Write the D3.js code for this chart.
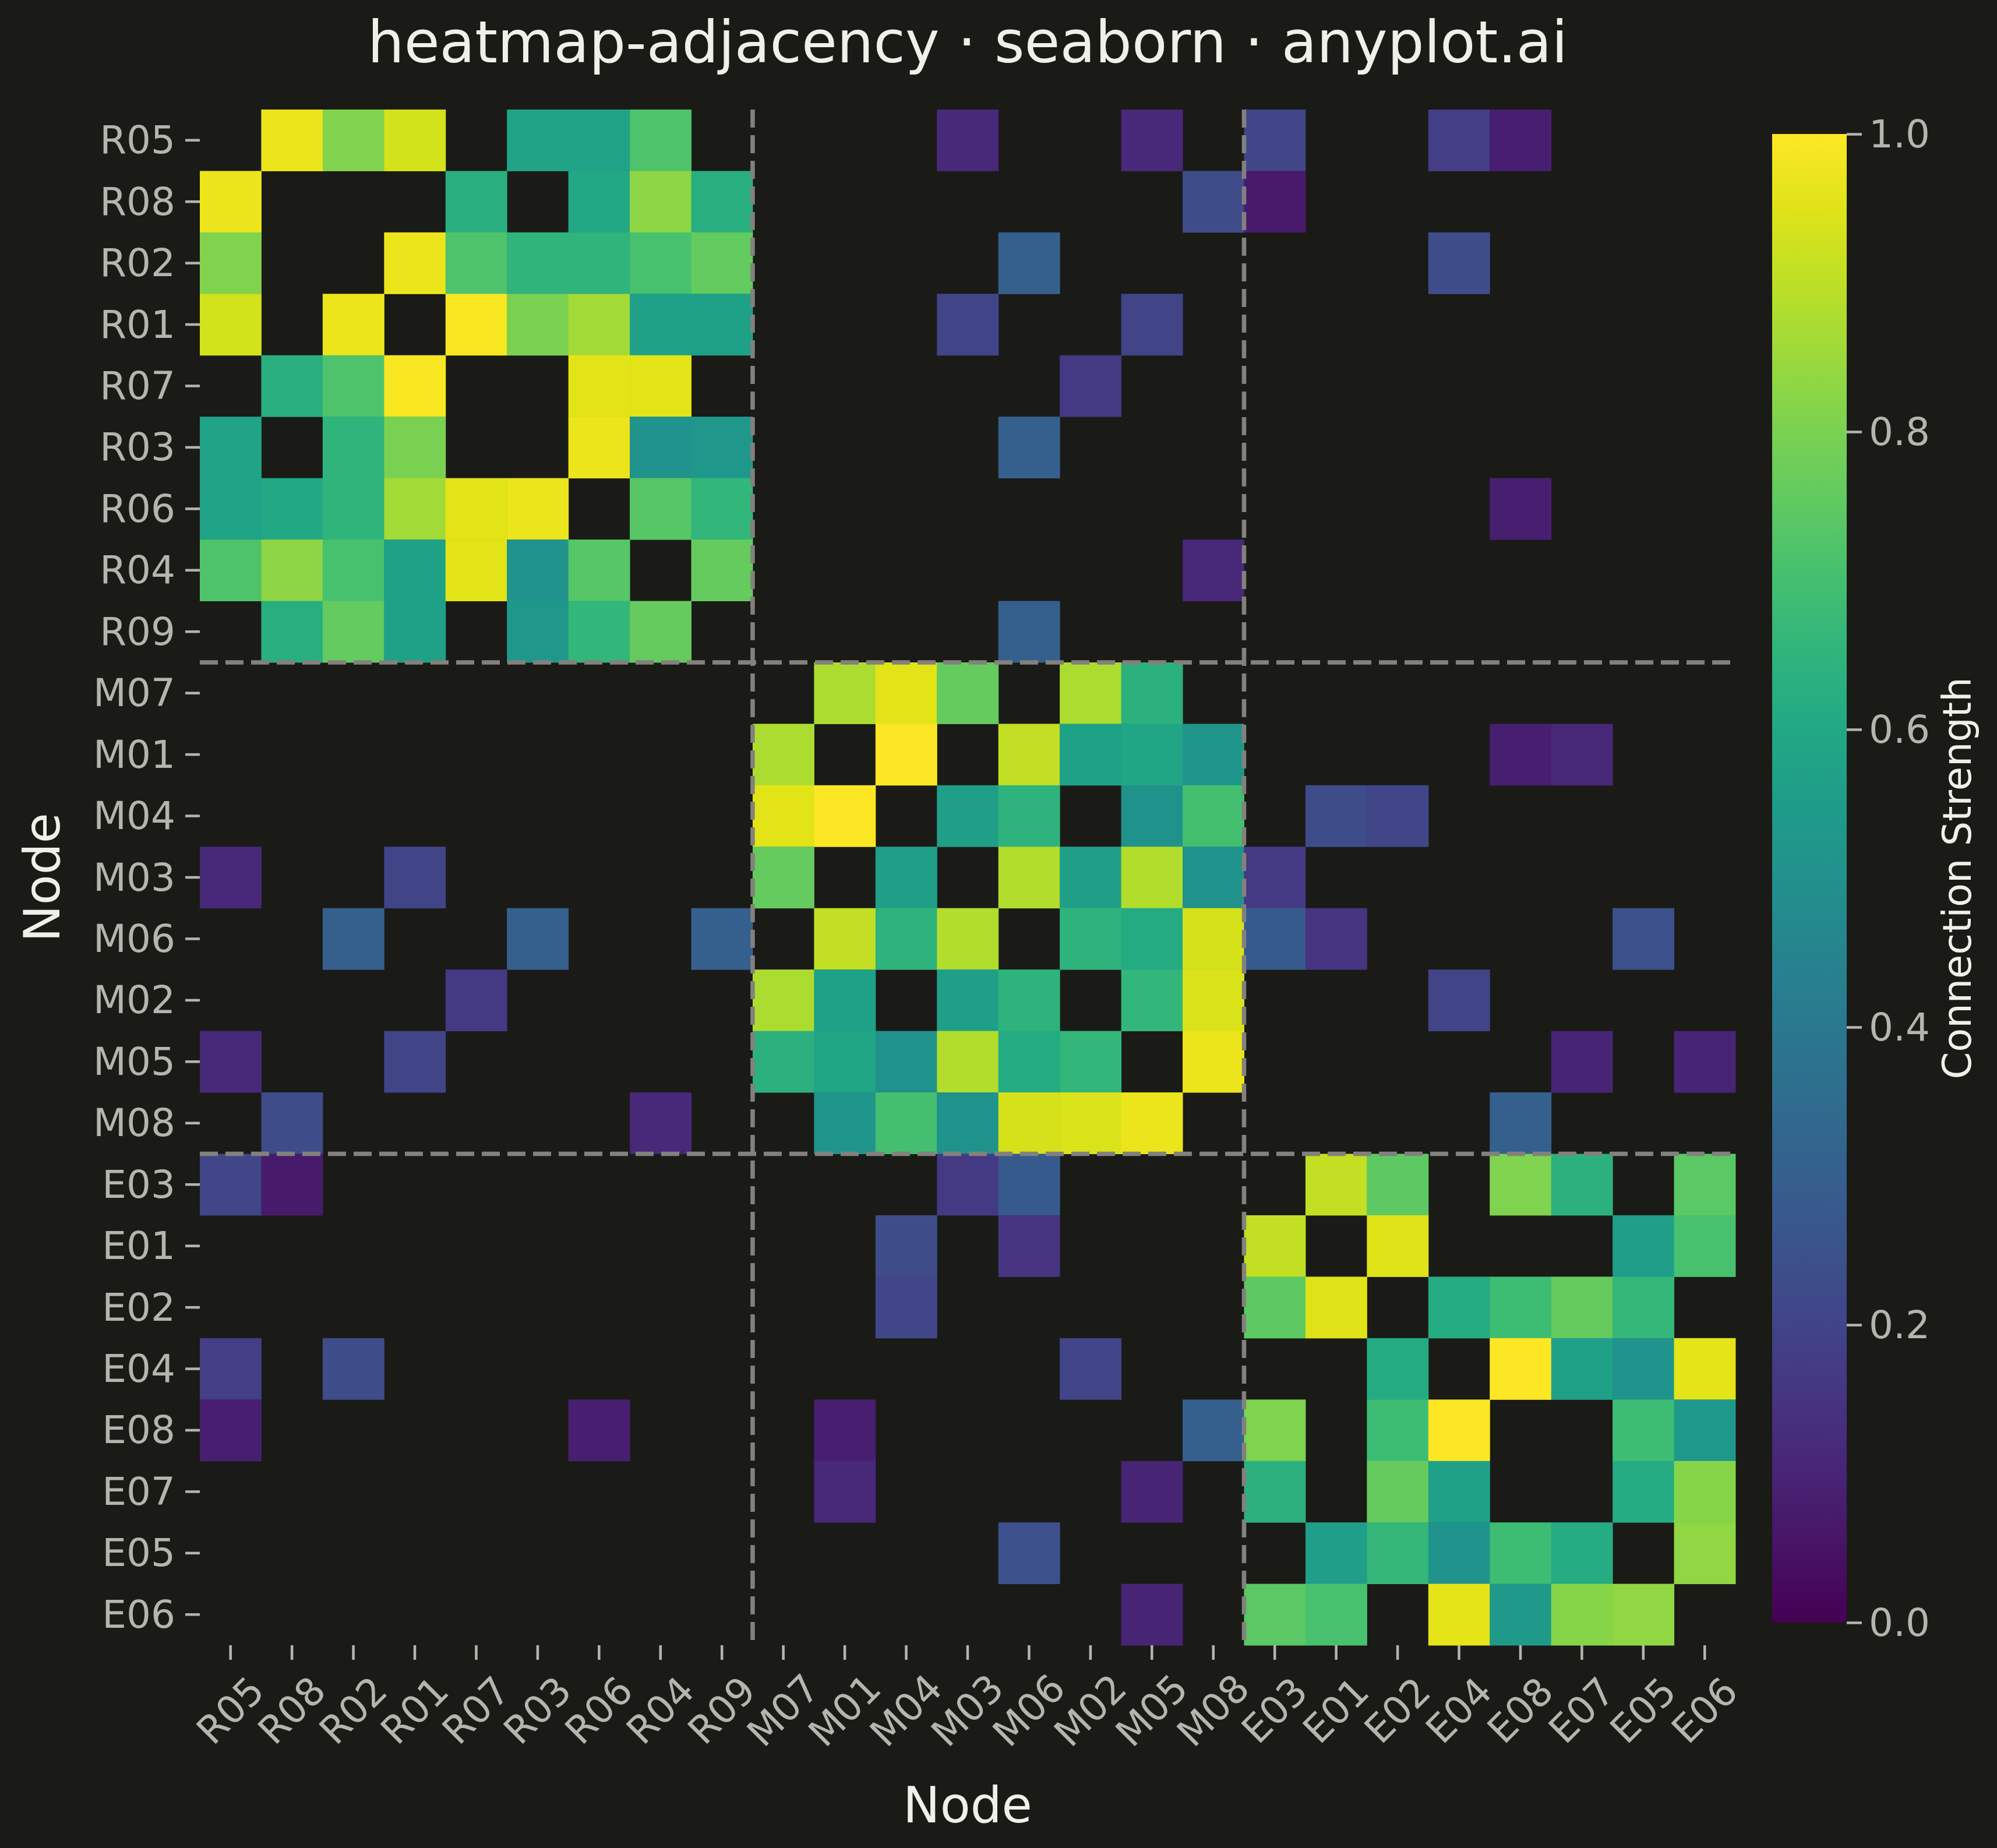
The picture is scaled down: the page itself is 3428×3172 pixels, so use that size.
<!DOCTYPE html>
<html>
<head>
<meta charset="utf-8">
<script src="https://cdn.jsdelivr.net/npm/d3@7"></script>
<style>
  body { margin: 0; background: #1a1a17; }
  text { font-family: "DejaVu Sans", sans-serif; }
</style>
</head>
<body>
<div id="chart"></div>
<script>
// node order as drawn (grouped: R, M, E)
const nodes = ["R05", "R08", "R02", "R01", "R07", "R03", "R06", "R04", "R09",
    "M07", "M01", "M04", "M03", "M06", "M02", "M05", "M08",
    "E03", "E01", "E02", "E04", "E08", "E07", "E05", "E06"];

// group boundaries (index where a new group starts)
const groupBreaks = [9, 17];

// connection strength matrix, rows/cols follow `nodes`, 0 = no edge
const strength = [
    [0, .97, .81, .93, 0, .58, .58, .72, 0,   0, 0, 0, .11, 0, 0, .11, 0,   .21, 0, 0, .18, .085, 0, 0, 0],
    [.97, 0, 0, 0, .63, 0, .60, .83, .63,   0, 0, 0, 0, 0, 0, 0, .23,   .07, 0, 0, 0, 0, 0, 0, 0],
    [.81, 0, 0, .97, .72, .65, .65, .71, .76,   0, 0, 0, 0, .30, 0, 0, 0,   0, 0, 0, .23, 0, 0, 0, 0],
    [.93, 0, .97, 0, .99, .80, .86, .57, .57,   0, 0, 0, .20, 0, 0, .20, 0,   0, 0, 0, 0, 0, 0, 0, 0],
    [0, .63, .72, .99, 0, 0, .955, .955, 0,   0, 0, 0, 0, 0, .165, 0, 0,   0, 0, 0, 0, 0, 0, 0, 0],
    [.58, 0, .65, .80, 0, 0, .97, .515, .535,   0, 0, 0, 0, .30, 0, 0, 0,   0, 0, 0, 0, 0, 0, 0, 0],
    [.58, .60, .65, .86, .955, .97, 0, .735, .66,   0, 0, 0, 0, 0, 0, 0, 0,   0, 0, 0, 0, .085, 0, 0, 0],
    [.72, .83, .71, .57, .955, .515, .735, 0, .765,   0, 0, 0, 0, 0, 0, 0, .11,   0, 0, 0, 0, 0, 0, 0, 0],
    [0, .63, .76, .57, 0, .535, .66, .765, 0,   0, 0, 0, 0, .30, 0, 0, 0,   0, 0, 0, 0, 0, 0, 0, 0],
    [0, 0, 0, 0, 0, 0, 0, 0, 0,   0, .875, .955, .765, 0, .875, .64, 0,   0, 0, 0, 0, 0, 0, 0, 0],
    [0, 0, 0, 0, 0, 0, 0, 0, 0,   .875, 0, 1.0, 0, .91, .57, .59, .52,   0, 0, 0, 0, .085, .11, 0, 0],
    [0, 0, 0, 0, 0, 0, 0, 0, 0,   .955, 1.0, 0, .56, .645, 0, .51, .70,   0, .23, .21, 0, 0, 0, 0, 0],
    [.11, 0, 0, .20, 0, 0, 0, 0, 0,   .765, 0, .56, 0, .885, .56, .885, .51,   .165, 0, 0, 0, 0, 0, 0, 0],
    [0, 0, .30, 0, 0, .30, 0, 0, .30,   0, .91, .645, .885, 0, .645, .61, .935,   .28, .15, 0, 0, 0, 0, .245, 0],
    [0, 0, 0, 0, .165, 0, 0, 0, 0,   .875, .57, 0, .56, .645, 0, .66, .945,   0, 0, 0, .20, 0, 0, 0, 0],
    [.11, 0, 0, .20, 0, 0, 0, 0, 0,   .64, .59, .51, .885, .61, .66, 0, .97,   0, 0, 0, 0, 0, .10, 0, .10],
    [0, .23, 0, 0, 0, 0, 0, .11, 0,   0, .52, .70, .51, .935, .945, .97, 0,   0, 0, 0, 0, .30, 0, 0, 0],
    [.21, .07, 0, 0, 0, 0, 0, 0, 0,   0, 0, 0, .165, .28, 0, 0, 0,   0, .91, .75, 0, .805, .64, 0, .745],
    [0, 0, 0, 0, 0, 0, 0, 0, 0,   0, 0, .23, 0, .15, 0, 0, 0,   .91, 0, .95, 0, 0, 0, .555, .71],
    [0, 0, 0, 0, 0, 0, 0, 0, 0,   0, 0, .21, 0, 0, 0, 0, 0,   .75, .95, 0, .61, .685, .765, .665, 0],
    [.18, 0, .23, 0, 0, 0, 0, 0, 0,   0, 0, 0, 0, 0, .20, 0, 0,   0, 0, .61, 0, 1.0, .57, .515, .96],
    [.085, 0, 0, 0, 0, 0, .085, 0, 0,   0, .085, 0, 0, 0, 0, 0, .30,   .805, 0, .685, 1.0, 0, 0, .685, .54],
    [0, 0, 0, 0, 0, 0, 0, 0, 0,   0, .11, 0, 0, 0, 0, .10, 0,   .64, 0, .765, .57, 0, 0, .615, .82],
    [0, 0, 0, 0, 0, 0, 0, 0, 0,   0, 0, 0, 0, .245, 0, 0, 0,   0, .555, .665, .515, .685, .615, 0, .835],
    [0, 0, 0, 0, 0, 0, 0, 0, 0,   0, 0, 0, 0, 0, 0, .10, 0,   .745, .71, 0, .96, .54, .82, .835, 0]
];

const colorbarTicks = [0, 0.2, 0.4, 0.6, 0.8, 1.0];

// chart dimensions
const width = 3428, height = 3172;
const plot = { left: 343, right: 2979, top: 188, bottom: 2824 };
const cbar = { left: 3042, right: 3170, top: 230, bottom: 2785 };
const tickColor = "#b5b5ae";
const labelColor = "#f0efe8";

const svg = d3.select("#chart")
    .append("svg")
    .attr("width", width)
    .attr("height", height)
    .style("background", "#1a1a17");

// scales
const x = d3.scaleBand().domain(nodes).range([plot.left, plot.right]);
const y = d3.scaleBand().domain(nodes).range([plot.top, plot.bottom]);
const color = d3.scaleSequential(d3.interpolateViridis).domain([0, 1]);

// flatten to cells, skipping empty ones
const cells = [];
strength.forEach((row, i) => row.forEach((v, j) => {
    if (v > 0) cells.push({ row: nodes[i], col: nodes[j], value: v });
}));

svg.append("g")
    .selectAll("rect")
    .data(cells)
    .enter()
    .append("rect")
    .attr("x", d => x(d.col))
    .attr("y", d => y(d.row))
    .attr("width", x.bandwidth() + 0.5)
    .attr("height", y.bandwidth() + 0.5)
    .attr("fill", d => color(d.value));

// group separators
const sep = svg.append("g")
    .attr("stroke", "#82817d")
    .attr("stroke-width", 7.5)
    .attr("stroke-dasharray", "31 13");

groupBreaks.forEach(b => {
    const px = x(nodes[b]);
    const py = y(nodes[b]);
    sep.append("line")
        .attr("x1", plot.left).attr("x2", plot.right)
        .attr("y1", py).attr("y2", py);
    sep.append("line")
        .attr("x1", px).attr("x2", px)
        .attr("y1", plot.top).attr("y2", plot.bottom);
});

// y axis
const yAxis = svg.append("g")
    .attr("transform", `translate(${plot.left},0)`)
    .call(d3.axisLeft(y).tickSize(25).tickPadding(17));
yAxis.select(".domain").remove();
yAxis.selectAll("line").attr("stroke", tickColor).attr("stroke-width", 4.5);
yAxis.selectAll("text")
    .attr("fill", tickColor)
    .style("font-size", "66px")
    .attr("dy", null)
    .attr("dominant-baseline", "central");

// x axis, labels rotated 45 and centred under the tick
const xAxis = svg.append("g")
    .attr("transform", `translate(0,${plot.bottom})`)
    .call(d3.axisBottom(x).tickSize(25));
xAxis.select(".domain").remove();
xAxis.selectAll("line").attr("stroke", tickColor).attr("stroke-width", 4.5);
xAxis.selectAll("text")
    .attr("fill", tickColor)
    .style("font-size", "66px")
    .attr("y", null)
    .attr("dy", null)
    .attr("text-anchor", "middle")
    .attr("dominant-baseline", "central")
    .attr("transform", "translate(0,112) rotate(-45)");

// axis labels
svg.append("text")
    .attr("x", (plot.left + plot.right) / 2)
    .attr("y", 3128)
    .attr("text-anchor", "middle")
    .attr("fill", labelColor)
    .style("font-size", "85px")
    .text("Node");

svg.append("text")
    .attr("transform", `translate(102,${(plot.top + plot.bottom) / 2}) rotate(-90)`)
    .attr("text-anchor", "middle")
    .attr("fill", labelColor)
    .style("font-size", "85px")
    .text("Node");

// title
svg.append("text")
    .attr("x", (plot.left + plot.right) / 2)
    .attr("y", 107)
    .attr("text-anchor", "middle")
    .attr("fill", labelColor)
    .style("font-size", "99px")
    .text("heatmap-adjacency · seaborn · anyplot.ai");

// colorbar
const grad = svg.append("defs").append("linearGradient")
    .attr("id", "viridis")
    .attr("x1", "0%").attr("x2", "0%")
    .attr("y1", "100%").attr("y2", "0%");
d3.range(0, 1.0001, 0.05).forEach(t => {
    grad.append("stop")
        .attr("offset", `${t * 100}%`)
        .attr("stop-color", color(t));
});

svg.append("rect")
    .attr("x", cbar.left)
    .attr("y", cbar.top)
    .attr("width", cbar.right - cbar.left)
    .attr("height", cbar.bottom - cbar.top)
    .attr("fill", "url(#viridis)");

const cScale = d3.scaleLinear().domain([0, 1]).range([cbar.bottom, cbar.top]);
const cAxis = svg.append("g")
    .attr("transform", `translate(${cbar.right},0)`)
    .call(d3.axisRight(cScale).tickValues(colorbarTicks).tickFormat(d3.format(".1f")).tickSize(26).tickPadding(12));
cAxis.select(".domain").remove();
cAxis.selectAll("line").attr("stroke", tickColor).attr("stroke-width", 4.5);
cAxis.selectAll("text")
    .attr("fill", tickColor)
    .style("font-size", "66px")
    .attr("dy", null)
    .attr("dominant-baseline", "central");

svg.append("text")
    .attr("transform", `translate(3383,${(cbar.top + cbar.bottom) / 2}) rotate(-90)`)
    .attr("text-anchor", "middle")
    .attr("fill", labelColor)
    .style("font-size", "67px")
    .text("Connection Strength");
</script>
</body>
</html>
